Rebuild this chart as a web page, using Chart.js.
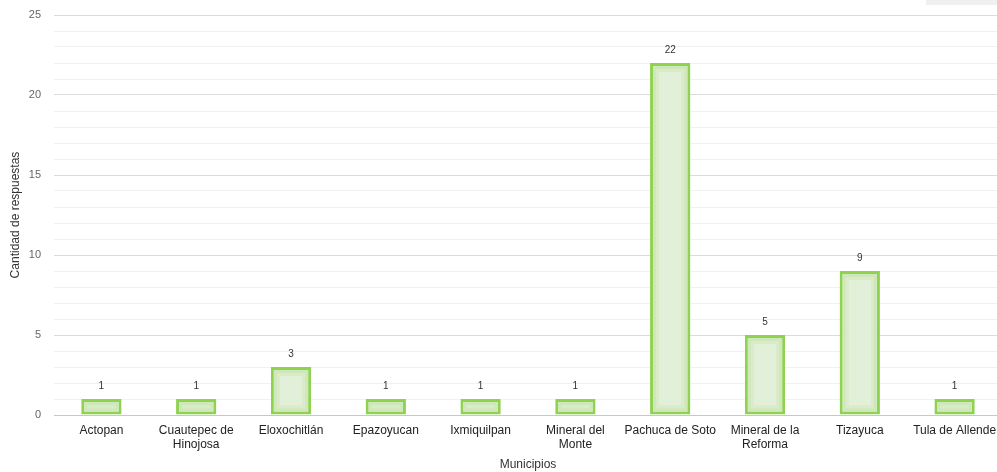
<!DOCTYPE html>
<html>
<head>
<meta charset="utf-8">
<script src="https://cdn.jsdelivr.net/npm/chart.js@4.4.1/dist/chart.umd.min.js"></script>
<style>
  html, body { margin: 0; padding: 0; background: #fff; overflow: hidden; }
  #wrap { position: relative; width: 997px; height: 472px; overflow: hidden; }
  #btn { position: absolute; left: 926px; top: 0; width: 71px; height: 5px; background: #f0f0f0; }
</style>
</head>
<body>
<div id="wrap">
  <canvas id="c" width="1002" height="472"></canvas>
  <div id="btn"></div>
</div>
<script>
const categories = [
  "Actopan", ["Cuautepec de", "Hinojosa"], "Eloxochitlán", "Epazoyucan", "Ixmiquilpan",
  ["Mineral del", "Monte"], "Pachuca de Soto", ["Mineral de la", "Reforma"], "Tizayuca", "Tula de Allende"
];
const respuestas = [1, 1, 3, 1, 1, 1, 22, 5, 9, 1];
const yTicks = [0, 5, 10, 15, 20, 25];

const valueLabels = {
  id: 'valueLabels',
  afterDatasetsDraw(chart) {
    const ctx = chart.ctx;
    const meta = chart.getDatasetMeta(0);
    ctx.save();
    meta.data.forEach((bar) => {
      const w = bar.width, left = bar.x - w / 2, top = bar.y, h = bar.base - bar.y;
      ctx.strokeStyle = 'rgba(143,209,79,0.22)';
      ctx.lineWidth = 3;
      ctx.strokeRect(left + 4.5, top + 4.5, w - 9, h - 9);
      ctx.strokeStyle = 'rgba(143,209,79,0.10)';
      ctx.strokeRect(left + 7.5, top + 7.5, w - 15, h - 15);
    });
    ctx.font = '10px "Liberation Sans", Arial, sans-serif';
    ctx.fillStyle = '#333';
    ctx.textAlign = 'center';
    ctx.textBaseline = 'middle';
    meta.data.forEach((bar, i) => {
      ctx.fillText(String(respuestas[i]), bar.x, bar.y - 13);
    });
    ctx.restore();
  }
};

new Chart(document.getElementById('c'), {
  type: 'bar',
  data: {
    labels: categories,
    datasets: [{
      data: respuestas,
      backgroundColor: '#e2efd9',
      borderColor: '#8ed24f',
      borderWidth: 3,
      borderSkipped: false,
      barPercentage: 0.85,
      categoryPercentage: 0.5
    }]
  },
  options: {
    responsive: false,
    animation: false,
    events: [],
    layout: { padding: { top: 15, right: 0, left: 0, bottom: 0 } },
    plugins: { legend: { display: false }, tooltip: { enabled: false } },
    scales: {
      x: {
        grid: { display: false, drawTicks: false },
        border: { display: true, color: '#c8c8c8', width: 1 },
        ticks: {
          color: '#222',
          font: { family: '"Liberation Sans", Arial, sans-serif', size: 12 },
          padding: 8,
          maxRotation: 0,
          autoSkip: false
        },
        title: {
          display: true,
          text: 'Municipios',
          color: '#333',
          font: { family: '"Liberation Sans", Arial, sans-serif', size: 12 },
          padding: { top: 4, bottom: 0 }
        },
        afterFit(scale) { scale.height = 57; scale.paddingRight = 0; }
      },
      y: {
        min: 0,
        max: 25,
        grid: {
          drawTicks: false,
          color: (c) => (c.tick && yTicks.includes(c.tick.value)) ? '#dcdcdc' : '#f1f1f1',
          lineWidth: 1
        },
        border: { display: false },
        ticks: {
          stepSize: 1,
          autoSkip: false,
          padding: 13,
          color: '#666',
          font: { family: '"Liberation Sans", Arial, sans-serif', size: 11 },
          callback: (v) => yTicks.includes(v) ? String(v) : ''
        },
        title: {
          display: true,
          text: 'Cantidad de respuestas',
          color: '#333',
          font: { family: '"Liberation Sans", Arial, sans-serif', size: 12 },
          padding: { top: 8, bottom: 4 }
        },
        afterFit(scale) { scale.width = 54; scale.paddingTop = 0; scale.paddingBottom = 0; }
      }
    }
  },
  plugins: [valueLabels]
});
</script>
</body>
</html>
